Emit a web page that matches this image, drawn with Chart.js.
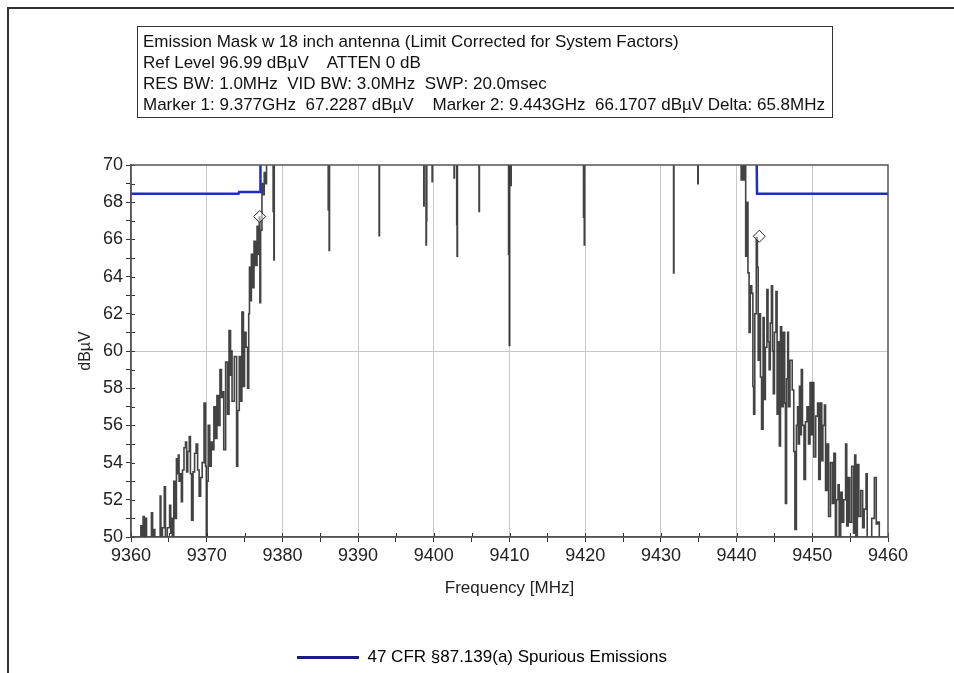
<!DOCTYPE html>
<html lang="en">
<head>
    <meta charset="UTF-8">
    <title>Emission Mask</title>
    <script src="https://cdn.jsdelivr.net/npm/chart.js"></script>
    <style>
        body {
            margin: 0;
            background: #fff;
            font-family: "Liberation Sans", Arial, sans-serif;
        }
        .frame {
            position: absolute;
            left: 7px;
            top: 7px;
            width: 947px;
            height: 666px;
            border-top: 2px solid #333;
            border-left: 2px solid #333;
        }
        .info {
            position: absolute;
            left: 137px;
            top: 26px;
            width: 696px;
            height: 92px;
            box-sizing: border-box;
            border: 1.5px solid #333;
            padding: 4px 5px;
            font-size: 17px;
            line-height: 21px;
            color: #111;
            white-space: pre;
            z-index: 2;
        }
        .chart-box {
            position: absolute;
            left: 0;
            top: 0;
            width: 954px;
            height: 673px;
        }
    </style>
</head>
<body>
<div class="frame"></div>
<div class="info">Emission Mask w 18 inch antenna (Limit Corrected for System Factors)
Ref Level 96.99 dBµV    ATTEN 0 dB
RES BW: 1.0MHz  VID BW: 3.0MHz  SWP: 20.0msec
Marker 1: 9.377GHz  67.2287 dBµV    Marker 2: 9.443GHz  66.1707 dBµV Delta: 65.8MHz</div>
<div class="chart-box"><canvas id="maskChart"></canvas></div>

<script>
    // Measured trace (MHz, dBµV) - values above 70 / below 50 run off the plot
    const traceFreq = [
        9360.0, 9361.2, 9361.4, 9361.5, 9361.7, 9361.8, 9362.0, 9362.1, 9362.6, 9362.8,
        9362.9, 9363.1, 9363.2, 9363.8, 9363.9, 9364.0, 9364.3, 9364.5, 9364.6, 9365.0,
        9365.2, 9365.3, 9365.4, 9365.5, 9365.8, 9365.9, 9366.1, 9366.2, 9366.3, 9366.4,
        9366.6, 9366.7, 9366.9, 9367.1, 9367.3, 9367.4, 9367.6, 9367.8, 9367.9, 9368.1,
        9368.3, 9368.5, 9368.7, 9368.9, 9369.1, 9369.3, 9369.5, 9369.8, 9369.9, 9370.0,
        9370.1, 9370.3, 9370.5, 9370.7, 9370.8, 9371.1, 9371.2, 9371.5, 9371.6, 9371.9,
        9372.0, 9372.2, 9372.3, 9372.7, 9372.8, 9373.1, 9373.2, 9373.3, 9373.4, 9373.9,
        9374.0, 9374.2, 9374.4, 9374.5, 9374.8, 9374.9, 9375.1, 9375.3, 9375.5, 9375.6,
        9375.7, 9375.8, 9376.0, 9376.1, 9376.4, 9376.5, 9376.8, 9376.9, 9377.0, 9377.05,
        9377.2, 9377.4, 9377.5, 9377.7, 9377.8, 9378.0,
        9378.75, 9378.8, 9378.85, 9378.9, 9378.95,
        9386.0, 9386.1, 9386.15, 9386.2, 9386.25,
        9392.75, 9392.8, 9392.85,
        9398.65, 9398.7, 9398.75, 9398.95, 9399.0, 9399.05, 9399.1,
        9399.75, 9399.8, 9399.85,
        9402.65, 9402.7, 9402.75, 9403.0, 9403.05, 9403.1, 9403.15,
        9405.95, 9406.0, 9406.05,
        9409.85, 9409.9, 9409.95, 9410.0, 9410.05, 9410.15, 9410.2, 9410.25,
        9419.75, 9419.8, 9419.85, 9419.9, 9419.95,
        9431.65, 9431.7, 9431.75,
        9434.85, 9434.9, 9434.95,
        9440.5, 9440.7, 9440.8, 9441.0, 9441.1, 9441.3, 9441.4, 9441.6, 9441.7, 9441.9,
        9442.1, 9442.2, 9442.3, 9442.5, 9442.7, 9442.8, 9442.9, 9443.1, 9443.2, 9443.4,
        9443.6, 9443.7, 9443.9, 9444.1, 9444.2, 9444.4, 9444.5, 9444.7, 9444.8, 9444.9,
        9445.1, 9445.3, 9445.4, 9445.6, 9445.7, 9445.9, 9446.0, 9446.3, 9446.4, 9446.5,
        9446.7, 9446.8, 9446.9, 9447.2, 9447.5, 9447.6, 9447.8, 9448.0, 9448.1, 9448.2,
        9448.4, 9448.5, 9448.6, 9448.8, 9449.0, 9449.2, 9449.4, 9449.6, 9449.8, 9449.9,
        9450.1, 9450.3, 9450.6, 9450.8, 9450.9, 9451.2, 9451.3, 9451.5, 9451.7, 9451.8,
        9452.1, 9452.2, 9452.6, 9452.7, 9453.0, 9453.1, 9453.3, 9453.5, 9453.6, 9453.9,
        9454.0, 9454.3, 9454.5, 9454.6, 9454.9, 9455.0, 9455.4, 9455.5, 9455.7, 9455.8,
        9456.1, 9456.2, 9456.6, 9456.7, 9457.0, 9457.2, 9457.3, 9457.7, 9458.0, 9458.4,
        9458.5, 9458.8, 9458.9, 9460.0
    ];
    const traceLevel = [
        48, 48, 50.6, 49, 51.1, 49.5, 51.0, 48, 49.2, 51.3,
        49.8, 50.4, 48, 49, 52.2, 49.5, 50.5, 52.7, 48, 50.5,
        51.7, 50.2, 51.0, 49.5, 53.0, 51.0, 54.2, 53.4, 54.4, 53.0,
        53.4, 51.9, 53.6, 54.8, 55.1, 53.5, 54.6, 55.4, 53.4, 50.9,
        53.5, 54.5, 55.0, 53.6, 52.2, 53.2, 54.0, 57.2, 53.8, 48,
        53.0, 56.0, 53.8, 55.1, 54.7, 57.0, 55.3, 57.6, 56.0, 59.0,
        57.5, 57.8, 54.7, 59.4, 56.6, 61.1, 58.7, 60.0, 57.3, 59.7,
        53.8, 56.8, 59.7, 57.3, 62.1, 58.1, 61.0, 60.2, 58.0, 62.0,
        64.5, 62.7, 65.2, 63.4, 65.9, 64.6, 66.7, 65.2, 67.2, 62.6,
        66.5, 69.0, 68.4, 69.6, 69.0, 72,
        72, 67.5, 72, 64.9, 72,
        72, 67.6, 72, 65.4, 72,
        72, 66.2, 72,
        72, 67.8, 72, 72, 65.7, 67.0, 72,
        72, 69.1, 72,
        72, 69.3, 72, 72, 66.8, 65.1, 72,
        72, 67.5, 72,
        72, 65.2, 72, 60.3, 72, 72, 68.9, 72,
        72, 67.2, 72, 65.7, 72,
        72, 64.2, 72,
        72, 69.0, 72,
        72, 69.2, 72, 69.2, 72, 65.1, 68.0, 64.2, 61.0, 63.5,
        63.1, 58.1, 56.6, 62.0, 66.1, 64.5, 59.5, 62.0, 58.6, 55.8,
        61.8, 57.4, 60.2, 63.3, 60.5, 59.0, 61.5, 63.5, 60.0, 57.7,
        61.0, 63.2, 56.6, 60.5, 54.9, 61.3, 57.0, 61.0, 57.2, 51.8,
        58.5, 61.0, 57.0, 59.5, 57.9, 54.6, 50.4, 56.0, 57.0, 55.0,
        58.1, 55.5, 59.0, 56.0, 53.1, 56.2, 57.0, 55.0, 58.3, 55.5,
        58.3, 54.3, 56.5, 57.2, 53.1, 57.2, 54.1, 56.0, 57.1, 52.5,
        55.0, 51.1, 54.0, 51.8, 54.5, 50.0, 52.0, 52.8, 49, 52.4,
        50.8, 52.0, 55.0, 50.6, 53.2, 50.8, 53.8, 50.2, 54.4, 49,
        53.9, 51.1, 52.5, 50.5, 51.5, 53.4, 49, 49, 51, 53.2,
        50.7, 50.8, 49, 49
    ];

    // 47 CFR 87.139(a) limit line
    const limitFreq = [9360, 9374.2, 9374.3, 9377.05, 9377.1, 9442.6, 9442.7, 9460];
    const limitLevel = [68.45, 68.45, 68.55, 68.55, 72, 72, 68.45, 68.45];

    // markers 1 and 2
    const markerFreq = [9377, 9443];
    const markerLevel = [67.2287, 66.1707];

    const yTicksMin = 50, yTicksMax = 70;
    const xTicksMin = 9360, xTicksMax = 9460;

    const FONT = '"Liberation Sans", Arial, sans-serif';

    function toPoints(xs, ys) {
        return xs.map((x, i) => ({x: x, y: ys[i]}));
    }

    // frame round the plot area and the small tick marks that cross the axes
    const plotFrame = {
        id: 'plotFrame',
        afterDraw(chart) {
            const {ctx, chartArea, scales} = chart;
            ctx.save();
            ctx.strokeStyle = '#333';
            ctx.lineWidth = 1;
            ctx.beginPath();
            scales.x.ticks.forEach(t => {
                const px = Math.round(scales.x.getPixelForValue(t.value)) + 0.5;
                ctx.moveTo(px, chartArea.bottom);
                ctx.lineTo(px, chartArea.bottom - 4);
            });
            scales.y.ticks.forEach(t => {
                const py = Math.round(scales.y.getPixelForValue(t.value)) + 0.5;
                ctx.moveTo(chartArea.left, py);
                ctx.lineTo(chartArea.left + 4, py);
            });
            ctx.stroke();
            ctx.strokeStyle = '#555';
            ctx.lineWidth = 1.5;
            ctx.strokeRect(chartArea.left, chartArea.top,
                chartArea.right - chartArea.left, chartArea.bottom - chartArea.top);
            ctx.restore();
        }
    };

    new Chart(document.getElementById('maskChart').getContext('2d'), {
        type: 'line',
        data: {
            datasets: [
                {
                    label: '47 CFR §87.139(a) Spurious Emissions',
                    data: toPoints(limitFreq, limitLevel),
                    borderColor: '#1f2fc0',
                    borderWidth: 2.5,
                    pointRadius: 0,
                    order: 1
                },
                {
                    label: 'Trace',
                    data: toPoints(traceFreq, traceLevel),
                    borderColor: 'rgba(20,20,20,0.8)',
                    borderWidth: 1.6,
                    stepped: 'middle',
                    pointRadius: 0,
                    order: 2
                },
                {
                    label: 'Markers',
                    data: toPoints(markerFreq, markerLevel),
                    showLine: false,
                    pointStyle: 'rectRot',
                    pointRadius: 6,
                    pointBorderWidth: 1,
                    pointBorderColor: '#222',
                    pointBackgroundColor: 'rgba(255,255,255,0.5)',
                    order: 0
                }
            ]
        },
        options: {
            responsive: true,
            maintainAspectRatio: false,
            animation: false,
            layout: {padding: {left: 76, right: 66, top: 165, bottom: -3}},
            plugins: {
                tooltip: {enabled: false},
                legend: {
                    position: 'bottom',
                    labels: {
                        color: '#222',
                        font: {family: FONT, size: 17},
                        boxWidth: 62,
                        boxHeight: 3,
                        padding: 10,
                        filter: item => item.datasetIndex === 0,
                        generateLabels: chart => [{
                            text: chart.data.datasets[0].label,
                            fillStyle: '#1b1b80',
                            strokeStyle: '#1b1b80',
                            lineWidth: 0,
                            datasetIndex: 0
                        }]
                    }
                }
            },
            scales: {
                x: {
                    type: 'linear',
                    min: xTicksMin,
                    max: xTicksMax,
                    afterFit: scale => { scale.height = 102; },
                    ticks: {
                        stepSize: 5,
                        autoSkip: false,
                        maxRotation: 0,
                        color: '#222',
                        font: {family: FONT, size: 18},
                        callback: v => (v % 10 === 0 ? v : '')
                    },
                    grid: {
                        color: ctx => (ctx.tick && ctx.tick.value % 10 === 0 &&
                            ctx.tick.value !== xTicksMin && ctx.tick.value !== xTicksMax) ? '#c8c8c8' : 'rgba(0,0,0,0)',
                        tickColor: '#333',
                        tickLength: 5
                    },
                    border: {color: '#555', width: 1.5},
                    title: {
                        display: true,
                        text: 'Frequency [MHz]',
                        color: '#222',
                        font: {family: FONT, size: 17},
                        padding: {top: 0, bottom: 40}
                    }
                },
                y: {
                    min: yTicksMin,
                    max: yTicksMax,
                    afterFit: scale => { scale.width = 55; },
                    ticks: {
                        stepSize: 1,
                        autoSkip: false,
                        color: '#222',
                        font: {family: FONT, size: 18},
                        callback: v => (v % 2 === 0 ? v : '')
                    },
                    grid: {
                        color: ctx => (ctx.tick && ctx.tick.value === 60) ? '#c8c8c8' : 'rgba(0,0,0,0)',
                        tickColor: '#333',
                        tickLength: 5
                    },
                    border: {color: '#555', width: 1.5},
                    title: {
                        display: true,
                        text: 'dBµV',
                        color: '#222',
                        font: {family: FONT, size: 16},
                        padding: {top: 0, bottom: 0}
                    }
                }
            }
        },
        plugins: [plotFrame]
    });
</script>
</body>
</html>
